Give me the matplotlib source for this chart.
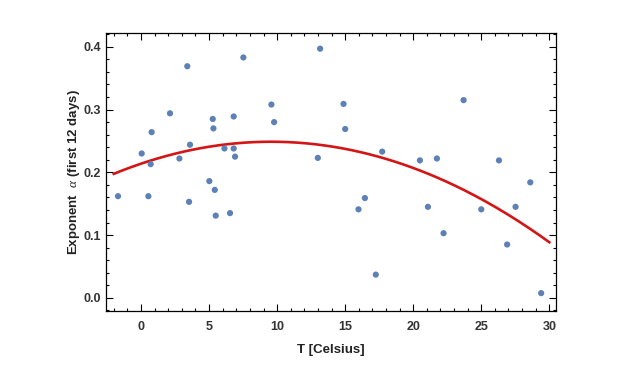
import numpy as np
import matplotlib
matplotlib.use('Agg')
import matplotlib.pyplot as plt
from matplotlib.ticker import MultipleLocator

plt.rcParams['font.family'] = ['Liberation Sans', 'DejaVu Sans']
plt.rcParams['mathtext.fontset'] = 'custom'
plt.rcParams['mathtext.it'] = 'Liberation Serif:italic'

# Temperature (Celsius) and exponent alpha
temp = [-1.69, 0.05, 0.54, 0.71, 0.78, 2.13, 2.82, 3.40, 3.53, 3.60,
        5.02, 5.27, 5.32, 5.42, 5.49, 6.13, 6.54, 6.81, 6.81, 6.91,
        7.52, 9.58, 9.78, 12.99, 13.16, 14.88, 15.00, 15.98, 16.45, 17.25,
        17.72, 20.49, 21.08, 21.74, 22.23, 23.70, 25.00, 26.30, 26.90, 27.52,
        28.60, 29.40]
alpha = [0.162, 0.230, 0.162, 0.213, 0.264, 0.294, 0.222, 0.369, 0.153, 0.244,
         0.186, 0.285, 0.270, 0.172, 0.131, 0.238, 0.135, 0.238, 0.289, 0.225,
         0.383, 0.308, 0.280, 0.223, 0.397, 0.309, 0.269, 0.141, 0.159, 0.037,
         0.233, 0.219, 0.145, 0.222, 0.103, 0.315, 0.141, 0.219, 0.085, 0.145,
         0.184, 0.0075]

# Quadratic fit through the points
coef = np.polyfit(temp, alpha, 2)
xfit = np.linspace(-2, 30, 200)
yfit = np.polyval(coef, xfit)

fig = plt.figure(figsize=(6.43, 3.65), dpi=100)
ax = fig.add_axes([0.1649, 0.1479, 0.70, 0.7617])

ax.plot(xfit, yfit, color='#d41515', linewidth=1.9, zorder=2)
ax.scatter(temp, alpha, s=20, color='#5e81b5', edgecolors='none', zorder=3)

ax.set_xlim(-2.57, 30.5)
ax.set_ylim(-0.021, 0.422)

ax.xaxis.set_major_locator(MultipleLocator(5))
ax.xaxis.set_minor_locator(MultipleLocator(1))
ax.yaxis.set_major_locator(MultipleLocator(0.1))
ax.yaxis.set_minor_locator(MultipleLocator(0.02))
ax.yaxis.set_major_formatter(plt.FuncFormatter(lambda v, p: f'{v:.1f}'))

ax.tick_params(which='both', direction='in', top=True, right=True,
               width=0.8, colors='black', labelcolor='#333333')
ax.tick_params(which='major', length=5, labelsize=9)
ax.tick_params(which='minor', length=2.5)
ax.tick_params(axis='x', which='major', pad=7)
for lab in ax.get_xticklabels() + ax.get_yticklabels():
    lab.set_fontweight('bold')

for s in ax.spines.values():
    s.set_linewidth(0.9)

ax.set_xlabel('T [Celsius]', fontsize=9.5, fontweight='bold', color='#222222', labelpad=8)
ax.set_ylabel(r'Exponent  $\alpha$ (first 12 days)', fontsize=9.5, fontweight='bold',
              color='#222222', labelpad=1)

fig.savefig('out.png', dpi=100)
